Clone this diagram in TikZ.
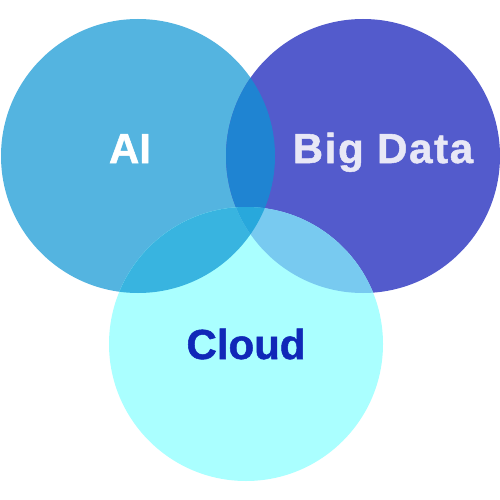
\documentclass[tikz,border=0pt]{standalone}
\usepackage{fontspec}
\setmainfont{Liberation Sans}
\newfontfamily\heavyfont[FakeBold=1.2]{Liberation Sans Bold}
\newfontfamily\heavywide[FakeBold=1.2,LetterSpace=4]{Liberation Sans Bold}
\definecolor{aiC}{HTML}{54B4E0}
\definecolor{bdC}{HTML}{535BCC}
\definecolor{clC}{HTML}{AAFFFF}
\definecolor{aibdC}{HTML}{1F84D2}
\definecolor{aiclC}{HTML}{38B4E0}
\definecolor{bdclC}{HTML}{78CAF0}
\definecolor{allC}{HTML}{28A8DC}
\definecolor{bdText}{HTML}{E8E8F6}
\definecolor{clText}{HTML}{1028B8}
\tikzset{lbl/.style={font=\fontsize{42}{42}\heavyfont, anchor=base, inner sep=0pt}}
\begin{document}
\begin{tikzpicture}[x=1pt,y=-1pt]
\useasboundingbox[fill=white] (0,0) rectangle (500,500);
\def\AIc{(138,156) circle (137)}
\def\BDc{(363,156) circle (137)}
\def\CLc{(246,344) circle (137)}
\fill[aiC] \AIc;
\fill[bdC] \BDc;
\fill[clC] \CLc;
\begin{scope}\clip \AIc; \fill[aibdC] \BDc; \end{scope}
\begin{scope}\clip \AIc; \fill[aiclC] \CLc; \end{scope}
\begin{scope}\clip \BDc; \fill[bdclC] \CLc; \end{scope}
\begin{scope}\clip \AIc; \clip \BDc; \fill[allC] \CLc; \end{scope}
\node[lbl, text=white] (ai) at (130,163) {AI};
\node[lbl, font=\fontsize{42}{42}\heavywide, text=bdText] (bd) at (383,163) {Big Data};
\node[lbl, text=clText] (cl) at (246,359) {Cloud};
\end{tikzpicture}
\end{document}
